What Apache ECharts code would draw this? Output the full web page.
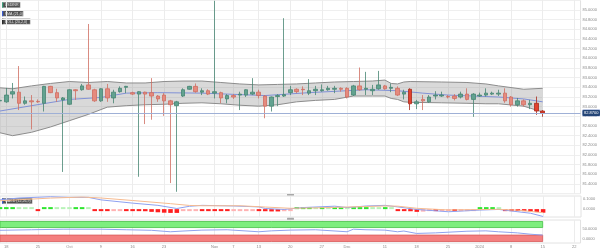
<!DOCTYPE html>
<html><head><meta charset="utf-8">
<script src="https://cdn.jsdelivr.net/npm/echarts@6/dist/echarts.min.js"></script>
<style>html,body{margin:0;padding:0;background:#fff}#c{width:600px;height:250px}</style>
</head><body><div id="c"></div>
<script>
// ---- categories (trading days) ----
const dates = [
'2023-09-15','2023-09-18','2023-09-19','2023-09-20','2023-09-21','2023-09-22','2023-09-25','2023-09-26','2023-09-27','2023-09-28','2023-09-29',
'2023-10-02','2023-10-03','2023-10-04','2023-10-05','2023-10-06','2023-10-09','2023-10-10','2023-10-11','2023-10-12','2023-10-13',
'2023-10-16','2023-10-17','2023-10-18','2023-10-19','2023-10-20','2023-10-23','2023-10-24','2023-10-25','2023-10-26','2023-10-27','2023-10-30','2023-10-31',
'2023-11-01','2023-11-02','2023-11-03','2023-11-06','2023-11-07','2023-11-08','2023-11-09','2023-11-10','2023-11-13','2023-11-14','2023-11-15','2023-11-16','2023-11-17',
'2023-11-20','2023-11-21','2023-11-22','2023-11-23','2023-11-24','2023-11-27','2023-11-28','2023-11-29','2023-11-30',
'2023-12-01','2023-12-04','2023-12-05','2023-12-06','2023-12-07','2023-12-08','2023-12-11','2023-12-12','2023-12-13','2023-12-14','2023-12-15',
'2023-12-18','2023-12-19','2023-12-20','2023-12-21','2023-12-22','2023-12-25','2023-12-26','2023-12-27','2023-12-28','2023-12-29',
'2024-01-01','2024-01-02','2024-01-03','2024-01-04','2024-01-05','2024-01-08','2024-01-09','2024-01-10','2024-01-11','2024-01-12',
'2024-01-15','2024-01-16','2024-01-17','2024-01-18','2024-01-19','2024-01-22','2024-01-23'];
const tickDates = ['2023-09-18','2023-09-25','2023-10-02','2023-10-09','2023-10-16','2023-10-23','2023-11-02','2023-11-07','2023-11-13','2023-11-20','2023-11-27','2023-12-01','2023-12-11','2023-12-18','2023-12-25','2024-01-01','2024-01-08','2024-01-15','2024-01-22'];
const tickLabels = ['18','25','Oct','9','16','23','Nov','7','13','20','27','Dec','11','18','25','2024','8','15','22'];

// ---- OHLC ----
const open = [83.12,83.10,83.26,83.30,83.07,83.12,83.11,83.07,83.42,83.29,
83.14,83.05,83.35,83.35,83.45,83.35,83.12,83.37,83.18,83.31,
83.40,83.29,83.26,83.30,83.29,83.22,83.24,83.12,83.02,83.22,
83.36,83.42,83.30,83.33,83.28,83.29,83.16,83.23,83.24,83.24,
83.26,83.30,83.22,83.01,83.21,83.22,83.29,83.36,83.36,83.28,
83.33,83.33,83.35,83.36,83.38,83.38,83.24,83.43,83.36,83.33,
83.37,83.43,83.38,83.38,83.26,83.36,83.06,83.15,83.10,83.22,
83.22,83.21,83.22,83.20,83.26,83.15,83.22,83.24,83.26,83.26,
83.28,83.20,83.04,83.12,83.04,83.07,82.91];
const close = [83.13,83.24,83.31,83.07,83.12,83.10,83.10,83.42,83.29,83.18,
83.18,83.35,83.33,83.43,83.36,83.12,83.37,83.18,83.30,83.38,
83.42,83.26,83.31,83.26,83.22,83.16,83.12,83.04,83.10,83.35,
83.42,83.31,83.33,83.26,83.31,83.18,83.23,83.20,83.26,83.35,
83.30,83.23,83.01,83.20,83.23,83.25,83.35,83.31,83.35,83.33,
83.36,83.35,83.38,83.38,83.36,83.20,83.43,83.35,83.38,83.36,
83.45,83.37,83.40,83.24,83.30,83.06,83.10,83.12,83.20,83.24,
83.24,83.20,83.17,83.26,83.15,83.26,83.24,83.28,83.28,83.28,
83.12,83.04,83.12,83.04,83.07,82.91,82.87];
const low = [83.08,83.08,83.17,82.93,83.04,82.53,83.08,82.90,83.28,83.10,
81.65,83.04,83.14,83.33,83.35,83.10,83.10,83.10,83.07,83.29,
83.28,83.24,81.55,82.64,82.73,83.10,82.81,81.42,81.24,83.20,
83.35,83.29,83.24,83.24,83.17,83.07,83.07,83.16,82.93,83.20,
83.24,83.17,82.76,82.90,83.01,83.20,83.24,83.28,83.24,83.24,
83.24,83.31,83.33,83.28,83.31,83.17,83.22,83.33,83.24,83.24,
83.35,83.35,83.30,83.22,83.15,82.93,82.95,82.93,83.08,83.15,
83.20,83.17,83.13,83.17,83.13,82.79,83.20,83.21,83.24,83.22,
83.08,83.00,83.00,83.00,82.95,82.83,82.79];
const high = [83.16,83.39,83.49,83.84,83.21,83.24,83.15,83.43,83.43,83.37,
83.20,83.36,83.36,83.47,84.71,83.37,83.38,83.47,83.35,83.42,
83.43,83.31,83.32,83.31,83.59,83.24,83.28,83.14,83.12,83.38,
83.43,83.48,83.38,83.36,85.19,83.31,83.26,83.26,83.31,83.36,
83.59,83.35,83.24,83.21,83.26,84.83,83.43,83.38,83.42,83.57,
83.43,83.46,83.43,83.43,83.40,83.40,83.45,83.81,83.72,83.45,
83.74,83.45,83.48,83.42,83.35,83.38,83.14,83.24,83.24,83.32,
83.31,83.24,83.26,83.31,83.38,83.28,83.29,83.38,83.31,83.35,
83.38,83.22,83.18,83.15,83.14,83.21,82.93];

// ---- Bollinger bands & SMA (read at sampled days) ----
const bbIdx   = [0,2,5,8,11,14,17,20,23,26,29,32,35,38,41,44,47,50,53,56,59,61,62,63,64,65,70,74,77,79,83,86];
const bbUpper = [83.39,83.37,83.43,83.48,83.52,83.50,83.52,83.49,83.49,83.52,83.53,83.53,83.50,83.47,83.45,83.46,83.47,83.49,83.51,83.52,83.53,83.55,83.48,83.47,83.51,83.52,83.51,83.50,83.47,83.43,83.36,83.38];
const bbLower = [82.46,82.40,82.47,82.58,82.71,82.84,82.99,83.02,83.04,83.05,83.07,83.08,83.06,83.03,83.01,83.04,83.10,83.13,83.15,83.22,83.22,83.22,83.17,83.15,83.10,83.09,83.08,83.07,83.06,83.06,83.01,82.89];
const smaIdx = [0,5,11,16,20,25,32,38,42,49,55,58,63,67,71,75,79,83,86];
const smaVal = [82.91,83.02,83.15,83.19,83.28,83.29,83.28,83.25,83.23,83.29,83.33,83.35,83.33,83.28,83.24,83.22,83.20,83.16,83.10];

// ---- MACD ----
const macdIdx = [0,3,8,11,14,16,21,25,28,30,32,37,41,42,45,48,53,55,58,61,63,66,71,76,79,82,84,86];
const macdVal = [0.088,0.106,0.118,0.112,0.112,0.088,0.057,0.036,0.006,0.027,0.036,0.030,0.021,0.006,-0.003,0.015,0.028,0.015,0.030,0.036,0.021,-0.003,-0.025,-0.009,-0.003,-0.025,-0.039,-0.070];
const signalIdx = [0,8,13,16,21,27,30,32,38,42,46,50,55,61,63,66,71,76,79,82,86];
const signalVal = [0.080,0.105,0.115,0.106,0.082,0.052,0.035,0.032,0.032,0.020,0.008,0.012,0.020,0.030,0.028,0.008,-0.008,-0.004,-0.002,-0.010,-0.034];
const histVal = [0.008,0.012,0.014,0.006,0.005,0.004,-0.004,0.008,0.010,0.006,
0.005,0.004,0.006,0.010,0.008,-0.006,-0.012,-0.016,-0.014,-0.010,
-0.012,-0.016,-0.018,-0.020,-0.026,-0.030,-0.034,-0.036,-0.036,-0.010,
-0.006,-0.004,-0.004,-0.005,-0.006,-0.016,-0.018,-0.016,-0.014,-0.006,
-0.005,-0.006,-0.020,-0.022,-0.022,-0.020,-0.004,0.012,0.012,0.014,
0.012,0.012,0.010,0.010,0.010,0.006,0.006,0.008,0.010,0.008,
0.006,0.008,0.006,-0.006,-0.010,-0.020,-0.026,-0.024,-0.016,-0.018,
-0.016,-0.014,-0.014,-0.012,-0.010,-0.006,0.006,0.008,0.008,0.006,
-0.004,-0.014,-0.016,-0.016,-0.022,-0.028,-0.034];

// ---- RSI ----
const rsiIdx = [0,5,10,16,20,24,27,29,32,36,41,43,46,50,55,56,58,61,63,64,66,69,74,77,79,82,84,86];
const rsiVal = [44,47,50,50,47,44,36,40,45,47,36,41,45,47,36,50,47,45,36,40,27,30,39,41,36,30,23,18];
const rsiHighBand = [59, 92];
const rsiLowBand = [-17, 18];

// ---- build ----
const labelMap = new Map(tickDates.map((d,i)=>[d,tickLabels[i]]));
const isTick = (i, v) => labelMap.has(v);
const brightDown = new Set([65,85,86]);
const candleData = open.map((o,i)=>{
  const item = {value:[o, close[i], low[i], high[i]]};
  if (brightDown.has(i)) item.itemStyle = {color0:'#e2412f', borderColor0:'#a8291c'};
  return item;
});
const pairs = (ix, vs) => ix.map((x,i)=>[x, vs[i]]);
const histData = histVal.map((v,i)=>{
  const p = i>0 ? histVal[i-1] : 0;
  let c;
  if (v >= 0) c = v >= p ? '#2ee52e' : '#b8f3b8';
  else c = v <= p ? '#ff1f1f' : '#ffb3b3';
  return {value:v, itemStyle:{color:c}};
});

const gridStyle = {show:true, borderColor:'#e2e2e2', borderWidth:1, backgroundColor:'#fff', left:0, right:19};
const xAxes = [0,1,2].map(g=>({
  type:'category', gridIndex:g, data:dates, boundaryGap:false,
  axisLine:{show:false}, axisTick:{show:false},
  axisLabel:{show:g===2, interval:isTick, formatter:v=>labelMap.get(v)||'', fontSize:4, color:'#8a8a8a', margin:2},
  splitLine:{show:true, interval:isTick, lineStyle:{color:'#ececec', width:1}}
}));
const yLab = {fontSize:4, color:'#8a8a8a', margin:2};

const option = {
  animation:false,
  grid:[
    Object.assign({top:0.3, height:193.4}, gridStyle),
    Object.assign({top:196, height:21}, gridStyle),
    Object.assign({top:220, height:23}, gridStyle)
  ],
  xAxis:xAxes,
  yAxis:[
    {type:'value', gridIndex:0, position:'right', min:81.2, max:85.2, interval:0.2,
     axisLine:{show:false}, axisTick:{show:false},
     axisLabel:Object.assign({formatter:v=>v.toFixed(4), showMinLabel:false, showMaxLabel:false}, yLab),
     splitLine:{lineStyle:{color:'#efefef'}}},
    {type:'value', gridIndex:1, position:'right', min:-0.075, max:0.125, interval:0.025,
     axisLine:{show:false}, axisTick:{show:false},
     axisLabel:Object.assign({formatter:v=>(Math.abs(v)<1e-9||Math.abs(v-0.1)<1e-9)?Math.abs(v).toFixed(4):''}, yLab),
     splitLine:{show:false}},
    {type:'value', gridIndex:2, position:'right', min:-25, max:100, interval:25,
     axisLine:{show:false}, axisTick:{show:false},
     axisLabel:Object.assign({formatter:v=>(v===0||v===50)?v.toFixed(4):''}, yLab),
     splitLine:{show:false}}
  ],
  series:[
    {type:'custom', xAxisIndex:0, yAxisIndex:0, silent:true, z:1, clip:true,
     data:[[0, 83.2]],
     renderItem:(params, api)=>{
       const pts = bbIdx.map((x,i)=>api.coord([x, bbUpper[i]]));
       for (let i=bbIdx.length-1;i>=0;i--) pts.push(api.coord([bbIdx[i], bbLower[i]]));
       return {type:'polygon', shape:{points:pts}, style:{fill:'rgba(140,140,140,0.33)', stroke:null}};
     }},
    {type:'line', xAxisIndex:0, yAxisIndex:0, data:pairs(bbIdx,bbUpper), symbol:'none', silent:true, z:2,
     lineStyle:{color:'#8c8c8c', width:1}},
    {type:'line', xAxisIndex:0, yAxisIndex:0, data:pairs(bbIdx,bbLower), symbol:'none', silent:true, z:2,
     lineStyle:{color:'#8c8c8c', width:1}},
    {type:'line', xAxisIndex:0, yAxisIndex:0, data:pairs(smaIdx,smaVal), symbol:'none', silent:true, z:3,
     lineStyle:{color:'#8091d6', width:1}},
    {type:'candlestick', xAxisIndex:0, yAxisIndex:0, data:candleData, barWidth:4, z:4,
     itemStyle:{color:'#62a290', color0:'#e58a7e', borderColor:'#468572', borderColor0:'#cf6d61', borderWidth:0.8},
     markLine:{silent:true, symbol:['none','none'], animation:false,
       data:[{yAxis: close[close.length-1]}],
       lineStyle:{color:'#9fb0d6', width:1, type:'solid'},
       label:{show:true, position:'end', distance:2, formatter:p=>Number(p.value).toFixed(4),
         fontSize:4, color:'#fff', backgroundColor:'#244577', borderColor:'#a9b8dc', borderWidth:0.6,
         padding:[1,1.5], borderRadius:1}}},
    {type:'line', xAxisIndex:1, yAxisIndex:1, data:pairs(macdIdx,macdVal), symbol:'none', silent:true, z:3,
     lineStyle:{color:'#8ea0f0', width:1}},
    {type:'line', xAxisIndex:1, yAxisIndex:1, data:pairs(signalIdx,signalVal), symbol:'none', silent:true, z:3,
     lineStyle:{color:'#f6bb90', width:1}},
    {type:'bar', xAxisIndex:1, yAxisIndex:1, data:histData, barWidth:'72%', barMinHeight:2, silent:true, z:2},
    {type:'line', xAxisIndex:2, yAxisIndex:2, data:pairs(rsiIdx,rsiVal), symbol:'none', silent:true, z:3,
     lineStyle:{color:'#8fa2ee', width:1},
     markArea:{silent:true, data:[
       [{xAxis:dates[0], yAxis:rsiHighBand[0], itemStyle:{color:'#7eee7e', borderColor:'#46c046', borderWidth:0.8}},
        {xAxis:dates[open.length-1], yAxis:rsiHighBand[1]}],
       [{xAxis:dates[0], yAxis:rsiLowBand[0], itemStyle:{color:'#f47f7f', borderColor:'#d85a5a', borderWidth:0.8}},
        {xAxis:dates[open.length-1], yAxis:rsiLowBand[1]}]
     ]}}
  ],
  graphic:[
    {type:'group', left:2, top:2, children:[
      {type:'rect', shape:{x:0,y:0,width:18,height:5.5}, style:{fill:'#4f4f4f', stroke:'#cfcfcf', lineWidth:0.4}},
      {type:'rect', shape:{x:0,y:0,width:1,height:5.5}, style:{fill:'#2fa57a'}},
      {type:'text', x:2.5, y:2.9, style:{text:'USDINR', fontSize:3.6, fill:'#e6e6e6', textVerticalAlign:'middle'}}
    ]},
    {type:'group', left:2, top:10.5, children:[
      {type:'rect', shape:{x:0,y:0,width:21,height:5.5}, style:{fill:'#4f4f4f', stroke:'#cfcfcf', lineWidth:0.4}},
      {type:'rect', shape:{x:0,y:0,width:1,height:5.5}, style:{fill:'#2a52e0'}},
      {type:'text', x:2.5, y:2.9, style:{text:'SMA (21,0)', fontSize:3.6, fill:'#e6e6e6', textVerticalAlign:'middle'}}
    ]},
    {type:'group', left:2, top:18.5, children:[
      {type:'rect', shape:{x:0,y:0,width:28,height:5.5}, style:{fill:'#4f4f4f', stroke:'#cfcfcf', lineWidth:0.4}},
      {type:'rect', shape:{x:0,y:0,width:1,height:5.5}, style:{fill:'#111'}},
      {type:'text', x:2.5, y:2.9, style:{text:'BOLL (20,2,0)', fontSize:3.6, fill:'#e6e6e6', textVerticalAlign:'middle'}}
    ]},
    {type:'group', left:2, top:198, children:[
      {type:'rect', shape:{x:0,y:0,width:30,height:5.5}, style:{fill:'#4f4f4f', stroke:'#cfcfcf', lineWidth:0.4}},
      {type:'rect', shape:{x:0,y:0,width:1,height:5.5}, style:{fill:'#2a52e0'}},
      {type:'text', x:2.5, y:2.9, style:{text:'MACD (12,26,9)', fontSize:3.6, fill:'#e6e6e6', textVerticalAlign:'middle'}}
    ]},
    {type:'group', left:2, top:222, children:[
      {type:'rect', shape:{x:0,y:0,width:30,height:5.2}, style:{fill:'#4f4f4f', stroke:'#cfcfcf', lineWidth:0.4}},
      {type:'rect', shape:{x:0,y:0,width:1,height:5.2}, style:{fill:'#2fa57a'}},
      {type:'text', x:2.5, y:2.7, style:{text:'RSI (14,70,30,1)', fontSize:3.6, fill:'#e6e6e6', textVerticalAlign:'middle'}}
    ]},
    {type:'rect', left:287, top:193.6, shape:{width:7,height:2,r:0.5}, style:{fill:'#a8a8a8'}},
    {type:'rect', left:287, top:217.8, shape:{width:7,height:2,r:0.5}, style:{fill:'#a8a8a8'}}
  ]
};
const chart = echarts.init(document.getElementById('c'), null, {renderer:'canvas'});
chart.setOption(option);
</script>
</body></html>
